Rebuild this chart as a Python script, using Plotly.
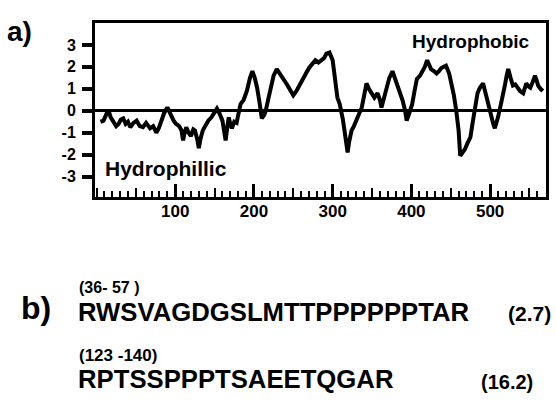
import plotly.graph_objects as go

# ---- data ----
residue = [5, 9, 12, 15, 18, 21, 25, 28, 31, 34, 37, 40, 43, 47, 51, 55, 59, 63, 68, 72,
           76, 79, 82, 86, 90, 93, 95, 98, 101, 105, 108, 110, 112, 114, 117, 120, 123, 125,
           128, 130, 132, 135, 138, 142, 146, 150, 153, 156, 160, 162, 164, 166, 168, 170,
           172, 175, 178, 180, 183, 187, 191, 195, 198, 201, 204, 207, 210, 213, 215, 218,
           221, 225, 229, 232, 235, 238, 242, 246, 250, 254, 258, 263, 266, 270, 274, 278,
           282, 286, 289, 292, 296, 300, 303, 306, 309, 311, 313, 315, 317, 319, 321, 324,
           327, 330, 334, 337, 340, 343, 346, 349, 353, 357, 360, 362, 365, 368, 372, 376,
           379, 382, 386, 389, 392, 394, 397, 401, 404, 407, 411, 414, 417, 420, 423, 425,
           429, 432, 435, 438, 441, 444, 448, 451, 454, 457, 459, 460, 462, 465, 468, 471,
           475, 478, 481, 484, 487, 491, 495, 498, 501, 504, 506, 508, 510, 514, 517, 519,
           521, 523, 526, 529, 532, 535, 538, 542, 546, 549, 551, 554, 557, 559, 561, 564, 567]
hydropathy = [-0.5, -0.45, -0.2, 0.05, -0.3, -0.45, -0.7, -0.6, -0.4, -0.35, -0.6, -0.5, -0.75,
              -0.55, -0.45, -0.7, -0.75, -0.55, -0.8, -0.7, -1.0, -0.8, -0.45, -0.1, 0.15, -0.1,
              -0.3, -0.45, -0.6, -0.7, -0.9, -1.35, -1.0, -0.75, -1.0, -1.15, -0.85, -0.9, -1.3,
              -1.7, -1.3, -0.9, -0.7, -0.45, -0.3, -0.05, 0.1, -0.1, -0.45, -0.9, -1.35, -0.8,
              -0.3, -0.6, -0.8, -0.5, -0.55, -0.2, 0.3, 0.5, 0.9, 1.5, 1.8, 1.5, 1.05, 0.4,
              -0.35, -0.2, 0.0, 0.5, 1.05, 1.6, 1.9, 1.75, 1.6, 1.4, 1.2, 0.95, 0.7, 0.9, 1.2,
              1.5, 1.7, 1.95, 2.1, 2.3, 2.2, 2.35, 2.4, 2.6, 2.65, 2.3, 1.5, 0.6, 0.3, 0.0,
              -0.4, -0.9, -1.4, -1.9, -1.4, -0.9, -0.7, -0.45, -0.2, 0.15, 0.7, 1.25, 1.0, 0.8,
              0.6, 0.8, 0.5, 0.15, 0.6, 1.05, 1.5, 1.8, 1.5, 1.2, 0.8, 0.45, 0.0, -0.45, -0.15,
              0.3, 0.9, 1.45, 1.6, 1.8, 2.0, 2.3, 2.0, 1.9, 1.8, 1.7, 1.8, 1.95, 2.0, 2.05, 1.7,
              1.25, 0.7, 0.0, -0.6, -0.9, -2.05, -1.9, -1.75, -1.5, -1.2, -0.5, 0.3, 0.8, 1.05,
              1.25, 0.7, 0.2, -0.3, -0.6, -0.8, -0.6, -0.3, 0.35, 0.8, 1.2, 1.6, 1.9, 1.5, 1.15,
              1.2, 1.05, 0.9, 0.8, 1.25, 1.1, 1.05, 1.3, 1.6, 1.4, 1.15, 1.0, 0.9]

x_tickvals = [100, 200, 300, 400, 500]
x_ticktext = ["100", "200", "300", "400", "500"]
y_tickvals = [-3, -2, -1, 0, 1, 2, 3]
y_ticktext = ["-3", "-2", "-1", "0", "1", "2", "3"]

panel_a = "a)"
panel_b = "b)"
label_top = "Hydrophobic"
label_bottom = "Hydrophillic"
pep1_range = "(36- 57 )"
pep1_seq = "RWSVAGDGSLMTTPPPPPPTAR"
pep1_val = "(2.7)"
pep2_range = "(123 -140)"
pep2_seq = "RPTSSPPPTSAEETQGAR"
pep2_val = "(16.2)"

# ---- layout geometry (pixels) ----
W, H = 556, 412
L, R, T, B = 95, 549, 23, 197
FONT = "Liberation Sans"


def px(x):
    return (x - L) / (R - L)


def py(y):
    return (B - y) / (B - T)


fig = go.Figure()
fig.add_trace(go.Scatter(x=residue, y=hydropathy, mode="lines",
                         line=dict(color="black", width=4), showlegend=False,
                         hoverinfo="skip"))
# helper trace on the overlay axis for the 50-step ticks
fig.add_trace(go.Scatter(x=[residue[0]], y=[hydropathy[0]], xaxis="x2", mode="markers",
                         marker=dict(opacity=0), showlegend=False, hoverinfo="skip"))

fig.update_layout(
    width=W, height=H,
    margin=dict(l=L, r=W - R, t=T, b=H - B),
    plot_bgcolor="white", paper_bgcolor="white",
    font=dict(family=FONT, color="black"),
    xaxis=dict(range=[-1.9, 571], showgrid=False, zeroline=False,
               showline=True, mirror=True, linecolor="black", linewidth=3,
               tickvals=x_tickvals, ticktext=x_ticktext,
               ticks="inside", ticklen=13, tickwidth=2.5, tickcolor="black",
               tickfont=dict(family=FONT, size=17, color="black", weight="bold"),
               minor=dict(dtick=10, tick0=0, ticks="inside", ticklen=6, tickwidth=2,
                          tickcolor="black"),
               ticklabelstandoff=-3),
    xaxis2=dict(overlaying="x", matches="x", side="bottom", showgrid=False,
                zeroline=False, showline=False, dtick=50, tick0=0, ticks="inside",
                ticklen=9, tickwidth=2, tickcolor="black", showticklabels=False),
    yaxis=dict(range=[-3.93, 4.0], showgrid=False, zeroline=True, zerolinecolor="black",
               zerolinewidth=2.5, showline=True, mirror=True, linecolor="black", linewidth=3,
               tickvals=y_tickvals, ticktext=y_ticktext, ticks="outside", ticklen=10,
               tickwidth=3.5, tickcolor="black", ticklabelstandoff=3,
               tickfont=dict(family=FONT, size=16, color="black", weight="bold")),
)

ann = []


def add_text(text, x, y, size, xanchor="left"):
    ann.append(dict(text=text, x=px(x), y=py(y), xref="paper", yref="paper",
                    xanchor=xanchor, yanchor="middle", showarrow=False,
                    font=dict(family=FONT, size=size, color="black", weight="bold")))


add_text(panel_a, 4, 31, 28)
add_text(label_top, 535, 41, 19, xanchor="right")
add_text(label_bottom, 103, 168, 21)
add_text(panel_b, 18, 308, 32)
add_text(pep1_range, 77, 287, 16)
add_text(pep1_seq, 76, 312, 25.7)
add_text(pep1_val, 556, 313, 21, xanchor="right")
add_text(pep2_range, 77, 355, 17)
add_text(pep2_seq, 76, 379, 25.7)
add_text(pep2_val, 538, 382, 20, xanchor="right")

fig.update_layout(annotations=ann)
fig.write_html("out.html", post_script="document.body.style.margin='0px';",
               config={"displayModeBar": False})
